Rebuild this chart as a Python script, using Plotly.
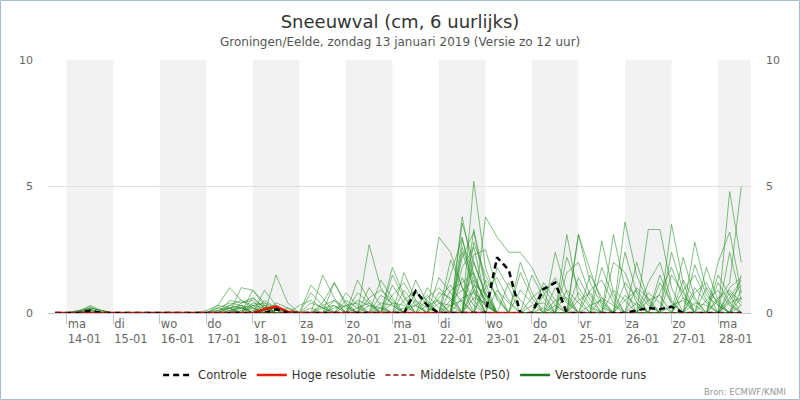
import pandas as pd
import plotly.graph_objects as go

# 6-uurlijkse tijdstappen: 13-01 18 uur t/m 28-01 12 uur
tijden = pd.date_range("2019-01-13 18:00", periods=60, freq="6h")

dag_namen = ["ma", "di", "wo", "do", "vr", "za", "zo", "ma", "di", "wo", "do", "vr", "za", "zo", "ma"]
dag_datums = pd.date_range("2019-01-14", "2019-01-28", freq="D")

# Controle run (cm per 6 uur)
controle = [
    0, 0, 0, 0.1, 0, 0, 0, 0, 0, 0,
    0, 0, 0, 0, 0, 0, 0, 0, 0, 0.15,
    0, 0, 0, 0, 0, 0, 0, 0, 0, 0,
    0, 0.87, 0.3, 0, 0, 0, 0, 0, 2.2, 1.7,
    0, 0, 0.95, 1.2, 0, 0, 0, 0, 0, 0,
    0.1, 0.2, 0.15, 0.25, 0, 0, 0, 0, 0, 0,
]

# Hoge resolutie run (loopt 10 dagen)
hoge_resolutie = [
    0, 0, 0, 0, 0, 0, 0, 0, 0, 0,
    0, 0, 0, 0, 0, 0, 0, 0, 0.15, 0.25,
    0.05, 0, 0, 0, 0, 0, 0, 0, 0, 0,
    0, 0, 0, 0, 0, 0, 0, 0, 0, 0,
    0,
]

# Middelste (P50): overal 0
middelste = [0] * 60

# Verstoorde runs: {tijdstap: cm}, overige tijdstappen 0
verstoorde_runs = [
    {2: 0.1, 3: 0.25, 4: 0.05, 14: 0.3, 15: 1.0, 16: 0.5, 17: 0.2, 23: 0.4, 24: 1.2, 25: 0.3,
     35: 3.8, 36: 1.5, 37: 0.4, 45: 3.1, 46: 1.2, 47: 0.3, 58: 4.8, 59: 2.0},
    {3: 0.3, 4: 0.1, 16: 1.0, 17: 0.9, 18: 0.4, 22: 1.1, 23: 0.6, 29: 1.8, 30: 0.7,
     36: 5.2, 37: 1.8, 38: 0.5, 49: 3.6, 50: 1.5, 51: 0.4, 57: 0.5, 58: 1.2, 59: 5.0},
    {18: 0.9, 19: 0.3, 26: 1.3, 27: 0.5, 33: 3.0, 34: 2.4, 35: 1.0, 36: 0.3, 43: 2.4, 44: 0.8,
     51: 3.3, 52: 3.3, 53: 1.0, 59: 1.5},
    {2: 0.05, 3: 0.2, 4: 0.1, 19: 1.5, 20: 0.4, 27: 2.7, 28: 1.0, 29: 0.3, 35: 3.55, 36: 2.0, 37: 0.8,
     44: 3.1, 45: 0.6, 53: 3.5, 54: 1.2, 58: 0.6, 59: 1.3},
    {15: 0.5, 16: 0.4, 17: 0.5, 23: 1.5, 24: 0.6, 30: 1.6, 31: 0.5, 37: 3.8, 38: 3.0, 39: 2.4,
     40: 2.4, 41: 1.8, 42: 0.8, 48: 3.1, 49: 1.0, 55: 2.8, 56: 0.9},
    {14: 0.2, 15: 0.4, 16: 0.3, 24: 1.2, 25: 0.4, 31: 1.3, 32: 0.4, 36: 3.3, 37: 1.2,
     45: 3.1, 46: 1.7, 47: 0.4, 54: 2.2, 55: 0.6, 57: 2.0, 58: 3.2, 59: 0.8},
    {3: 0.15, 17: 0.9, 18: 0.3, 25: 0.8, 26: 0.3, 29: 1.5, 30: 0.6, 35: 2.2, 36: 3.2, 37: 1.0,
     47: 2.85, 48: 0.8, 52: 1.5, 53: 0.4, 58: 1.0, 59: 1.4},
    {15: 0.3, 16: 0.5, 17: 0.3, 22: 0.8, 23: 0.3, 28: 1.3, 29: 0.6, 34: 2.1, 35: 1.0,
     40: 2.0, 41: 0.8, 50: 2.0, 51: 0.5, 56: 1.8, 57: 0.5},
    {16: 0.2, 17: 0.3, 18: 0.2, 26: 0.8, 27: 0.4, 32: 1.0, 33: 0.4, 36: 2.8, 37: 1.5, 38: 0.6,
     42: 1.2, 43: 0.5, 49: 2.4, 50: 0.8, 57: 1.2, 58: 0.4},
    {18: 0.5, 19: 0.2, 24: 0.5, 25: 0.2, 30: 0.9, 31: 0.3, 35: 2.6, 36: 1.2,
     44: 2.2, 45: 1.0, 46: 0.3, 53: 1.5, 54: 0.8, 59: 0.6},
    {14: 0.1, 15: 0.3, 16: 0.2, 27: 0.6, 28: 0.9, 29: 0.5, 34: 1.5, 35: 3.0, 36: 0.8,
     41: 1.5, 42: 0.6, 51: 1.2, 52: 2.0, 53: 0.5},
    {2: 0.05, 3: 0.1, 17: 0.4, 18: 0.3, 23: 0.3, 24: 0.5, 29: 1.1, 30: 0.4, 36: 2.3, 37: 2.5, 38: 1.0,
     46: 1.5, 47: 0.6, 55: 1.9, 56: 0.7, 57: 0.3},
    {19: 0.4, 20: 0.2, 28: 0.7, 29: 0.4, 33: 1.4, 34: 0.8, 38: 1.8, 39: 1.0, 43: 1.0, 44: 0.4,
     48: 2.0, 49: 1.6, 50: 0.4, 58: 2.4, 59: 0.5},
    {16: 0.3, 17: 0.2, 22: 0.4, 23: 0.2, 31: 0.8, 32: 0.5, 35: 1.8, 36: 2.6, 37: 0.6,
     45: 1.4, 46: 0.5, 54: 1.3, 55: 0.5},
    {3: 0.2, 4: 0.1, 15: 0.2, 16: 0.3, 26: 0.5, 27: 0.3, 34: 0.9, 35: 1.2, 36: 1.6, 37: 0.3,
     42: 0.7, 43: 1.4, 44: 0.5, 50: 1.0, 51: 0.6, 57: 1.5, 58: 0.7},
    {17: 0.3, 18: 0.4, 19: 0.2, 29: 0.7, 30: 1.2, 31: 0.4, 37: 1.3, 38: 0.7,
     47: 1.8, 48: 0.6, 53: 2.4, 54: 0.9, 59: 0.9},
    {14: 0.1, 15: 0.2, 25: 0.3, 26: 0.4, 32: 0.6, 33: 1.0, 34: 0.5, 36: 2.0, 37: 0.7,
     40: 0.9, 41: 0.4, 49: 1.2, 50: 0.6, 55: 1.0, 56: 0.4},
    {18: 0.2, 19: 0.3, 23: 0.2, 24: 0.3, 30: 0.5, 31: 0.9, 32: 0.3, 35: 2.4, 36: 1.0,
     44: 1.6, 45: 2.0, 46: 0.7, 52: 0.8, 53: 1.8, 54: 0.6, 58: 0.5, 59: 1.1},
    {16: 0.1, 17: 0.2, 28: 0.4, 29: 0.3, 33: 0.6, 34: 1.1, 35: 0.4, 39: 1.2, 40: 0.5,
     46: 0.9, 47: 1.3, 48: 0.4, 56: 1.0, 57: 0.4},
    {3: 0.1, 20: 0.2, 27: 0.3, 28: 0.2, 34: 0.5, 35: 0.9, 36: 1.3, 37: 0.5,
     41: 0.6, 42: 1.0, 43: 0.3, 51: 0.8, 52: 0.4, 58: 0.8, 59: 0.3},
    {15: 0.2, 16: 0.2, 17: 0.1, 31: 0.3, 32: 0.7, 33: 0.2, 36: 1.1, 37: 0.8,
     45: 0.5, 46: 0.8, 47: 0.2, 54: 0.6, 55: 0.3},
    {18: 0.1, 19: 0.2, 24: 0.2, 25: 0.3, 29: 0.4, 30: 0.3, 35: 0.6, 36: 0.8, 37: 0.3,
     43: 0.5, 44: 0.6, 49: 0.5, 50: 0.9, 51: 0.3, 57: 0.6, 58: 0.9, 59: 0.4},
    {35: 2.9, 36: 1.4, 37: 0.5, 44: 0.9, 45: 0.4, 55: 0.8, 56: 1.2, 57: 0.3},
    {13: 0.1, 14: 0.3, 15: 0.2, 21: 0.3, 22: 0.5, 23: 0.2, 33: 0.8, 34: 0.6, 38: 0.9, 39: 0.4,
     48: 0.9, 49: 0.5, 52: 1.2, 53: 0.4},
    {17: 0.6, 18: 0.2, 26: 0.2, 27: 0.4, 31: 0.5, 32: 0.2, 37: 1.0, 38: 1.4, 39: 0.5,
     47: 0.6, 48: 0.3, 56: 0.5, 57: 0.9, 58: 0.3},
    {15: 0.1, 16: 0.2, 22: 0.2, 30: 0.2, 31: 0.3, 36: 0.6, 37: 0.4, 41: 0.3, 42: 0.4,
     50: 0.4, 55: 0.4, 56: 0.3},
    {14: 0.2, 15: 0.1, 25: 0.5, 26: 0.2, 33: 0.4, 34: 0.3, 40: 1.6, 41: 0.6, 46: 0.3, 47: 0.5,
     54: 0.9, 55: 1.5, 56: 0.5},
    {19: 0.1, 28: 0.2, 32: 0.3, 33: 0.5, 35: 1.4, 36: 0.5, 43: 0.3, 49: 0.7, 50: 0.3, 59: 0.3},
    {2: 0.1, 3: 0.15, 16: 0.4, 17: 0.6, 18: 0.2, 24: 0.3, 34: 0.3, 35: 0.5, 42: 0.2,
     53: 0.3, 54: 0.5},
    {18: 0.3, 27: 1.0, 28: 0.3, 36: 0.9, 37: 0.3, 45: 0.8, 46: 0.2, 51: 0.5, 52: 0.7,
     58: 0.4, 59: 0.6},
]

FONT = "DejaVu Sans, Verdana, sans-serif"

fig = go.Figure()

# Verstoorde runs (onderste laag)
for run in verstoorde_runs:
    waarden = [run.get(i, 0) for i in range(len(tijden))]
    fig.add_trace(go.Scatter(
        x=tijden, y=waarden, mode="lines",
        line=dict(color="rgba(30,140,30,0.55)", width=1),
        legendgroup="ens", showlegend=False, hoverinfo="skip",
    ))

fig.add_trace(go.Scatter(
    x=tijden, y=middelste, mode="lines", yaxis="y2",
    line=dict(color="#a01010", width=1.5, dash="5px,3px"),
    name="Middelste (P50)", legendrank=3,
))
fig.add_trace(go.Scatter(
    x=tijden[:len(hoge_resolutie)], y=hoge_resolutie, mode="lines",
    line=dict(color="#e01e00", width=2.5),
    name="Hoge resolutie", legendrank=2,
))
fig.add_trace(go.Scatter(
    x=tijden, y=controle, mode="lines",
    line=dict(color="black", width=2.5, dash="6px,4px"),
    name="Controle", legendrank=1,
))
# alleen voor de legenda: dikkere donkergroene lijn
fig.add_trace(go.Scatter(
    x=[None], y=[None], mode="lines",
    line=dict(color="#1e7a1e", width=2.5),
    name="Verstoorde runs", legendgroup="ens", legendrank=4,
))

# grijze banden voor om-en-om dagen
banden = []
for d in dag_datums[::2]:
    banden.append(dict(
        type="rect", xref="x", yref="paper", layer="below",
        x0=d, x1=d + pd.Timedelta(days=1), y0=0, y1=1,
        fillcolor="#f2f2f2", line=dict(width=0),
    ))
# rand om de hele afbeelding
banden.append(dict(
    type="rect", xref="paper", yref="paper",
    x0=-47.5 / 703, x1=1 + 48.5 / 703, y0=-86.5 / 253, y1=1 + 59.5 / 253,
    line=dict(color="#a9bccd", width=1), fillcolor="rgba(0,0,0,0)",
))

ticktekst = [f"{n}<br>{d.strftime('%d-%m')}" for n, d in zip(dag_namen, dag_datums)]

fig.update_layout(
    width=800, height=400,
    margin=dict(l=48, r=49, t=60, b=87, autoexpand=False),
    paper_bgcolor="white", plot_bgcolor="white",
    font=dict(family=FONT, size=11.5, color="#666666"),
    title=dict(
        text="Sneeuwval (cm, 6 uurlijks)",
        x=0.5, xanchor="center", y=1 - 22 / 400, yanchor="middle",
        font=dict(size=18, color="#333333"),
    ),
    xaxis=dict(
        type="date", automargin=False,
        range=["2019-01-13 14:20", "2019-01-28 17:00"],
        tickvals=dag_datums, ticktext=ticktekst,
        ticklabelposition="outside right",
        ticks="outside", ticklen=10, tickcolor="#c0c8d8",
        showline=True, linecolor="#c0c8d8",
        showgrid=False, zeroline=False,
        tickfont=dict(size=11.5, color="#666666"),
    ),
    yaxis=dict(
        range=[0, 10], tickvals=[0, 5, 10], automargin=False,
        showgrid=True, gridcolor="#e0e0e0", zeroline=False,
        ticklabelstandoff=14,
        tickfont=dict(size=11, color="#666666"),
    ),
    yaxis2=dict(
        range=[0, 10], tickvals=[0, 5, 10], automargin=False,
        overlaying="y", side="right",
        showgrid=False, zeroline=False,
        ticklabelstandoff=14,
        tickfont=dict(size=11, color="#666666"),
    ),
    legend=dict(
        orientation="h", x=0.508, xanchor="center",
        y=-0.245, yanchor="middle",
        font=dict(size=11.5, color="#333333"),
        bgcolor="rgba(0,0,0,0)",
    ),
    shapes=banden,
    annotations=[
        dict(
            text="Groningen/Eelde, zondag 13 januari 2019 (Versie zo 12 uur)",
            xref="paper", yref="paper", x=0.5, y=1 + 18 / 253,
            xanchor="center", yanchor="middle", showarrow=False,
            font=dict(size=12, color="#555555"),
        ),
        dict(
            text="Bron: ECMWF/KNMI",
            xref="paper", yref="paper", x=1 + 37 / 703, y=-79 / 253,
            xanchor="right", yanchor="middle", showarrow=False,
            font=dict(size=8.5, color="#999999"),
        ),
    ],
)

# standaard paginamarge weghalen zodat de grafiek in de hoek begint
fig.write_html(
    "out.html",
    config={"displayModeBar": False},
    post_script="document.body.style.margin='0';",
)
